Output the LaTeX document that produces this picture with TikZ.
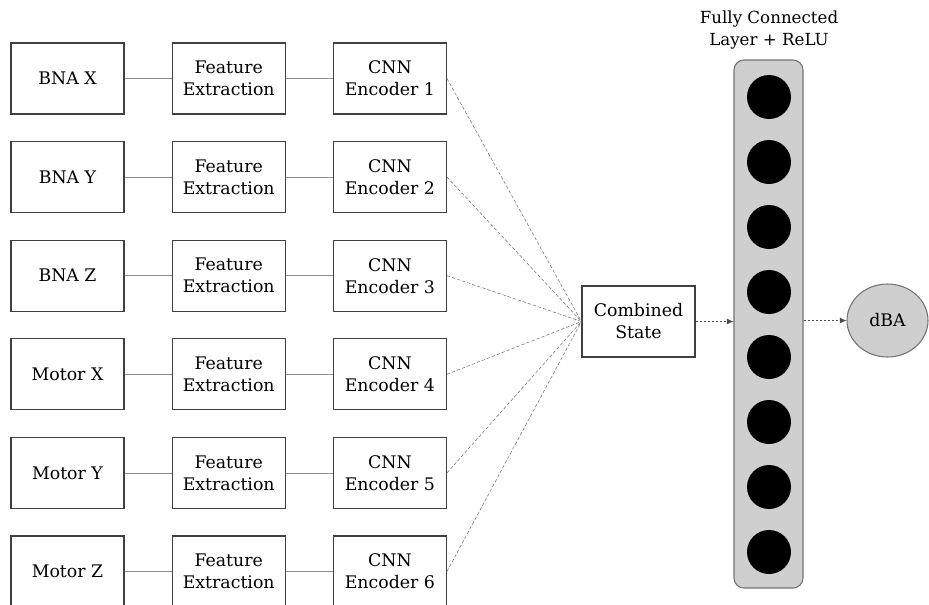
\documentclass[tikz,border=0pt]{standalone}
\usepackage{fontspec}
\setmainfont{DejaVu Serif}
\usetikzlibrary{positioning,arrows.meta,shapes.geometric}

\begin{document}
\begin{tikzpicture}[x = 0.75pt, y = -0.75pt, node distance = 35.25pt,
    block/.style = {shape = rectangle, draw = black!75, line width = 0.9pt, minimum width = 84.75pt, minimum height = 53.25pt, inner sep = 1pt, align = center, font = \fontsize{13}{16.5}\selectfont},
    link/.style = {draw = black!45, line width = 0.6pt},
    feed/.style = {draw = black!55, dash pattern = on 2.5pt off 1.5pt, line width = 0.4pt},
    flow/.style = {draw = black!70, dash pattern = on 1.5pt off 1.5pt, line width = 0.6pt, -{Latex[length = 5pt, width = 4.5pt]}},
    neuron/.style = {shape = circle, fill = black, minimum size = 33pt, inner sep = 0pt}]
    \clip (0,0) rectangle (929,604);
    % input rows
    \node [block] (in1) at (67.5,78.5) {BNA X};
    \node [block, right = of in1] (fe1) {Feature\\Extraction};
    \node [block, right = of fe1] (enc1) {CNN\\Encoder 1};
    \node [block] (in2) at (67.5,177.1) {BNA Y};
    \node [block, right = of in2] (fe2) {Feature\\Extraction};
    \node [block, right = of fe2] (enc2) {CNN\\Encoder 2};
    \node [block] (in3) at (67.5,275.7) {BNA Z};
    \node [block, right = of in3] (fe3) {Feature\\Extraction};
    \node [block, right = of fe3] (enc3) {CNN\\Encoder 3};
    \node [block] (in4) at (67.5,374.3) {Motor X};
    \node [block, right = of in4] (fe4) {Feature\\Extraction};
    \node [block, right = of fe4] (enc4) {CNN\\Encoder 4};
    \node [block] (in5) at (67.5,472.9) {Motor Y};
    \node [block, right = of in5] (fe5) {Feature\\Extraction};
    \node [block, right = of fe5] (enc5) {CNN\\Encoder 5};
    \node [block] (in6) at (67.5,571.5) {Motor Z};
    \node [block, right = of in6] (fe6) {Feature\\Extraction};
    \node [block, right = of fe6] (enc6) {CNN\\Encoder 6};
    \draw [link] (in1) -- (fe1) -- (enc1);
    \draw [link] (in2) -- (fe2) -- (enc2);
    \draw [link] (in3) -- (fe3) -- (enc3);
    \draw [link] (in4) -- (fe4) -- (enc4);
    \draw [link] (in5) -- (fe5) -- (enc5);
    \draw [link] (in6) -- (fe6) -- (enc6);

    \node [block] (comb) at (638.5,321.5) {Combined\\State};
    \draw [feed] (enc1.east) -- (comb.west);
    \draw [feed] (enc2.east) -- (comb.west);
    \draw [feed] (enc3.east) -- (comb.west);
    \draw [feed] (enc4.east) -- (comb.west);
    \draw [feed] (enc5.east) -- (comb.west);
    \draw [feed] (enc6.east) -- (comb.west);

    % fully connected layer
    \node [shape = rectangle, rounded corners = 7.5pt, fill = black!19, draw = black!55, line width = 0.8pt, minimum width = 51.75pt, minimum height = 396pt] (fc) at (768.5,324) {};
    \node [align = center, font = \fontsize{12.5}{16.5}\selectfont] (fctitle) at (769,30) {Fully Connected\\Layer + ReLU};
    \node [neuron] (n1) at (769,97) {};
    \node [neuron] (n2) at (769,162) {};
    \node [neuron] (n3) at (769,227) {};
    \node [neuron] (n4) at (769,292) {};
    \node [neuron] (n5) at (769,357) {};
    \node [neuron] (n6) at (769,422) {};
    \node [neuron] (n7) at (769,487) {};
    \node [neuron] (n8) at (769,552) {};

    \node [shape = ellipse, fill = black!19, draw = black!55, line width = 0.8pt, minimum width = 60.75pt, minimum height = 54.75pt, font = \fontsize{13}{16.5}\selectfont] (out) at (887.5,320.5) {dBA};
    \draw [flow] (comb.east) -- (fc.west |- comb.east);
    \draw [flow] (fc.east |- out.west) -- (out.west);
\end{tikzpicture}
\end{document}
